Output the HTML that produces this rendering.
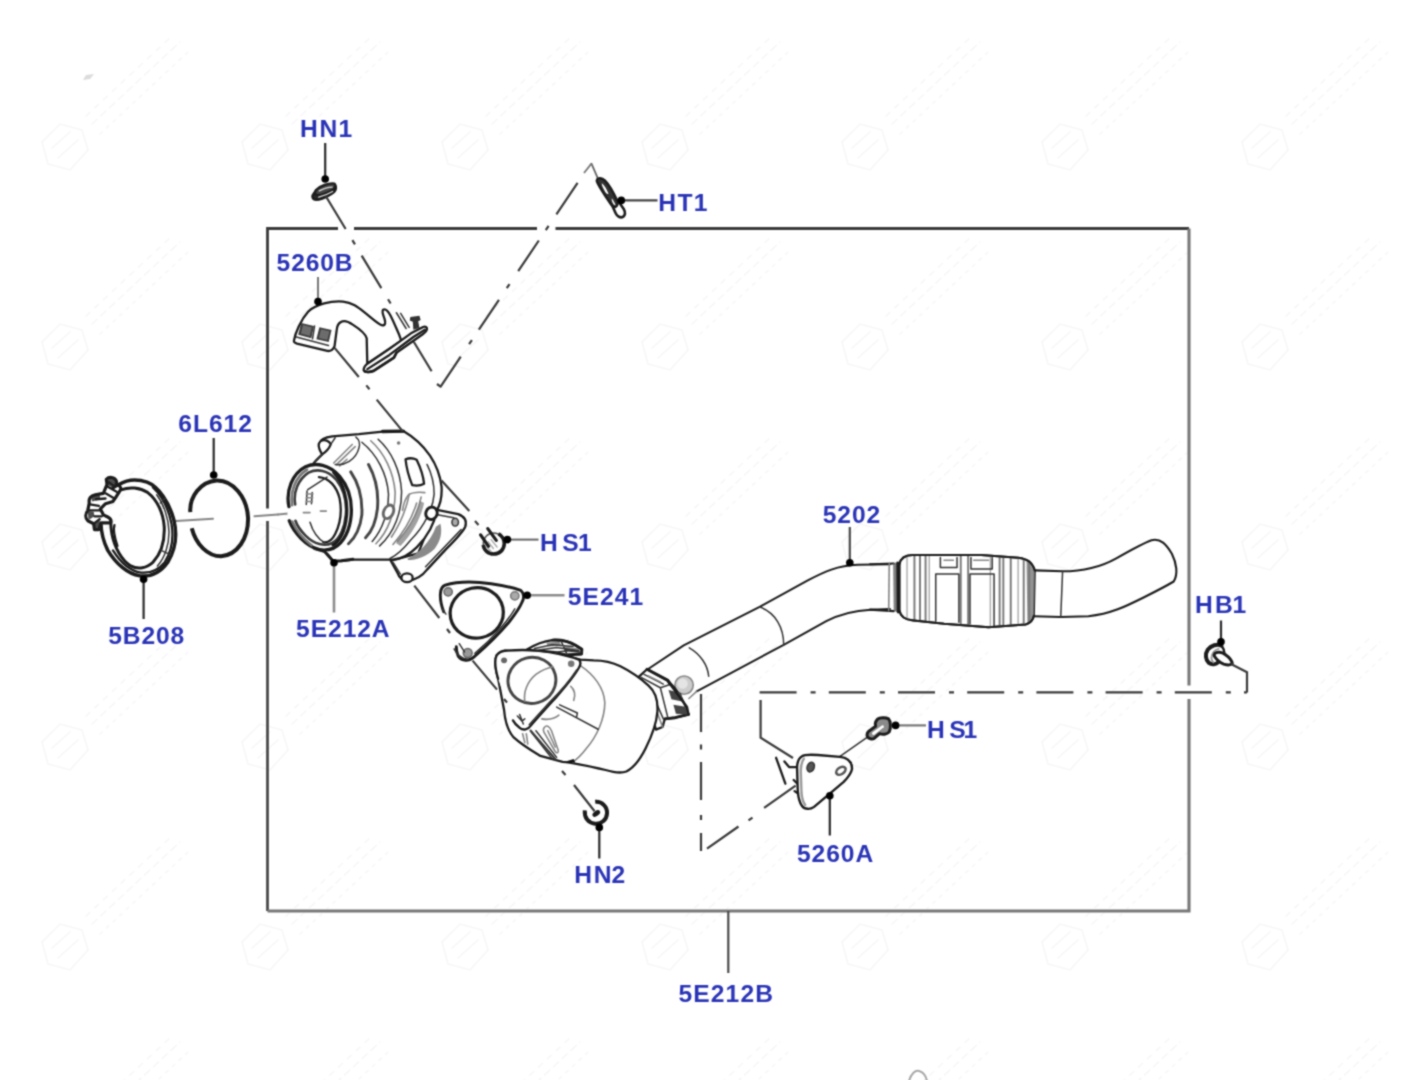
<!DOCTYPE html>
<html lang="en">
<head>
<meta charset="utf-8">
<title>Exhaust system diagram</title>
<style>
html,body{margin:0;padding:0;background:#fff;}
body{width:1404px;height:1080px;overflow:hidden;position:relative;font-family:"Liberation Sans",sans-serif;}
svg{position:absolute;left:0;top:0;display:block;}

.lbl{font-family:"Liberation Sans",sans-serif;font-weight:bold;font-size:24.6px;fill:#2a34b6;}
.ld{stroke:#2a2a2a;stroke-width:2.2;fill:none;stroke-linecap:butt;}
.dd{stroke:#3a3a3a;stroke-width:2.2;fill:none;}
.dot{fill:#000;}
.frame{stroke:#505050;stroke-width:2.8;fill:none;}
#parts path,#parts ellipse,#parts circle,#parts line,#parts rect,#parts polyline{vector-effect:non-scaling-stroke;stroke-linejoin:round;stroke-linecap:round;}
.o{stroke:#1c1c1c;stroke-width:2.3;fill:none;}
.k{stroke:#1c1c1c;stroke-width:2.9;fill:none;}
.t{stroke:#333;stroke-width:1.5;fill:none;}
.g{stroke:#858585;stroke-width:1.6;fill:none;}
.gl{stroke:#aaa;stroke-width:1.4;fill:none;}
.w{fill:#fff;}
.ow{stroke:#1c1c1c;stroke-width:2.3;fill:#fff;}
.tw{stroke:#333;stroke-width:1.5;fill:#fff;}
.f{fill:#555;stroke:none;}
.fl{fill:#999;stroke:none;}
</style>
</head>
<body>
<svg id="art" width="1404" height="1080" viewBox="0 0 1404 1080">
<defs><filter id="soft" x="0" y="0" width="1404" height="1080" filterUnits="userSpaceOnUse" color-interpolation-filters="sRGB"><feConvolveMatrix order="3" kernelMatrix="1 2 1 2 7 2 1 2 1" divisor="19" edgeMode="duplicate" preserveAlpha="true"/></filter></defs>
<rect width="1404" height="1080" fill="#fff"/>
<g filter="url(#soft)">
<rect width="1404" height="1080" fill="#fff"/>

<!-- faint background watermark texture -->
<defs>
<pattern id="wm" width="200" height="200" patternUnits="userSpaceOnUse" x="30" y="20">
<g fill="none" stroke="#f6f6f6" stroke-width="1.5" stroke-linecap="round">
<path d="M12 122L30 104L52 110L58 130L40 150L18 144Z M22 128L40 112 M28 138L48 120"/>
<path d="M62 104L150 22" stroke-dasharray="7 5"/>
<path d="M70 114L158 32" stroke-dasharray="3 6"/>
<path d="M56 96L142 16" stroke-dasharray="5 7"/>
</g>
</pattern>
</defs>
<rect width="1404" height="1080" fill="url(#wm)"/>
<path d="M83 80L86 75L94 74L90 79Z" fill="#dcdcdc"/>
<path d="M909 1081C911 1074 915 1070 919 1071C923 1072 926 1076 927 1081" fill="none" stroke="#a8a8a8" stroke-width="2"/>

<!-- FRAME -->
<g id="frame">
<path class="frame" style="stroke:#3a3a3a" d="M267.5 508.5V228.5H338 M354 228.5H537 M555.5 228.5H1189"/>
<path class="frame" style="stroke:#4a4a4a" d="M267.5 521V911"/>
<path class="frame" style="stroke:#777;stroke-width:3.1" d="M1189 228.5V685.5 M1189 699V911H267.5"/>
</g>

<!-- PARTS -->
<g id="parts">
<!-- ring 6L612 + clamp 5B208 : coords from zoom [70,460,278,620] scale 6.75 -->
<g transform="translate(70,460) scale(0.148148)">
<!-- axis lines -->
<path class="g" style="stroke-width:2" d="M715 412L965 396 M1245 380L1404 368"/>
<path class="g" style="stroke-width:2" d="M1404 368L1490 360"/>
<!-- ring -->
<path class="k" style="stroke-width:4;stroke-linecap:butt" d="M812 352C805 250 880 145 990 138C1100 135 1195 250 1202 390C1205 530 1130 640 1020 650C930 650 850 570 822 460"/>
<!-- clamp band outer -->
<path class="k" style="stroke-width:3.5" d="M330 165C380 135 450 125 520 150C600 180 670 290 700 400C725 500 715 600 660 690C610 760 540 790 470 782C390 770 310 700 255 610C225 550 210 480 208 420"/>
<!-- mid lines right/bottom -->
<path class="o" d="M560 185C620 240 665 330 685 430C700 520 690 610 640 690C595 745 540 765 480 760C410 750 340 690 290 610"/>
<path class="t" d="M585 235C635 300 665 400 668 480C670 570 640 660 590 715"/>
<!-- clamp band inner -->
<path class="k" style="stroke-width:3" d="M350 200C400 180 470 185 525 220C590 270 630 360 636 450C640 540 615 630 560 690C520 730 460 740 410 715C350 680 300 590 283 500C278 470 275 440 275 420"/>
<path class="t" d="M615 610L680 640 M640 260L610 290"/>
<path class="o" d="M300 440C290 470 300 520 320 580"/>
<!-- hardware -->
<path class="k" style="stroke-width:3.2;fill:#fff" d="M245 130C265 110 300 115 312 140C318 160 305 180 290 188L330 165L345 195L310 250L290 280L240 295L205 330L225 370L255 385C275 395 280 410 275 425L208 425L195 470L165 470L160 430L120 410C100 390 105 360 120 340L130 290C125 260 140 240 170 235L225 225L250 165Z"/>
<path class="o" d="M262 150L290 170 M255 180L315 215 M240 225L300 260 M175 265L240 260 M135 300L195 310 M130 340L200 340 M165 380L215 380 M160 430L200 400"/>
<path class="f" style="fill:#222" d="M250 130L305 125L312 160L290 188L258 172Z M120 345L160 350L165 380L125 405Z M165 420L200 410L205 465L168 468Z M140 245L200 235L205 265L150 280Z" opacity="0.8"/>
</g>
<!-- pipe: coords from zoom [630,480,890,680] -->
<g transform="translate(630,480) scale(0.185185)">
<path class="o" style="stroke-width:2" d="M90 1026L290 893L700 685L960 542C1050 495 1120 462 1230 458L1404 455"/>
<path class="o" style="stroke-width:2" d="M360 1141L830 890L1060 762C1130 725 1200 705 1300 700L1404 697"/>
<path class="g" d="M360 1141L318 1180"/>
<path class="t" d="M700 685C790 720 830 800 830 890"/>
<path class="t" d="M320 906C380 940 420 1000 425 1060"/>
</g>
<!-- flex + tail: coords from zoom [870,500,1130,700] -->
<g transform="translate(870,500) scale(0.185185)">
<path class="o" style="stroke-width:2.1" d="M0 347L128 343 M0 592L128 600"/>
<path class="g" d="M104 345L101 598"/>
<path class="f" d="M125 340L160 335L165 610L128 600Z" opacity="0.75"/>
<path class="k" d="M150 340L152 605"/>
<path class="ow" style="stroke-width:2" d="M160 345C165 315 190 298 230 297L600 297L800 312C850 318 875 335 890 380L885 625C880 650 865 665 840 672L640 687L400 668L230 650C185 645 165 630 160 600Z"/>
<path class="fl" d="M845 325L890 380L885 625L850 668Z" style="fill:#808080" opacity="0.85"/>
<path class="g" style="stroke:#777;stroke-width:1.9" d="M240 300V648 M270 300V652 M300 300V656 M490 300V675 M530 300V678 M700 305V682 M720 308V680 M760 310V678 M830 318V672 M860 330V660"/>
<path class="gl" d="M200 310V640 M320 300V658 M650 300V685 M800 312V674"/>
<path class="t" d="M355 655V400H480V660 M540 668V400H670V680"/>
<path class="t" d="M380 310V365H470V310 M545 310V372H660V312"/>
<path class="g" d="M400 325H450 M560 325H640"/>
<path class="o" style="stroke-width:2.1" d="M160 345C165 315 190 298 230 297L600 297L800 312C850 318 875 335 890 380 M885 625C880 650 865 665 840 672L640 687L400 668L230 650C185 645 165 630 160 600"/>
<!-- right pipe + tail -->
<path class="o" style="stroke-width:2.1" d="M890 380L1040 385C1150 385 1250 360 1330 315C1400 275 1470 235 1520 217C1570 205 1600 240 1630 290C1655 340 1665 400 1640 440C1590 470 1540 495 1480 525C1380 575 1300 615 1180 628L1030 632L885 628"/>
<path class="t" d="M1040 385L1030 632"/>
</g>
<!-- bracket 5260A + HS1 bolt: coords from zoom [740,680,1000,880] -->
<g transform="translate(740,680) scale(0.185185)">
<path class="t" d="M540 412L700 300"/>
<path class="o" d="M195 420L245 560 M240 440L265 470L300 470 M290 540L310 560 M295 600L310 610"/>
<path class="o" style="fill:#fff;stroke-width:2.4" d="M335 412C350 400 380 402 420 405L540 415C580 420 605 440 605 480C600 510 580 530 560 550L400 685C380 700 350 700 335 680C320 660 315 640 312 600L308 470C310 440 320 420 335 412Z"/>
<path class="g" style="stroke-width:2.4;stroke:#999" d="M345 425C335 440 328 460 328 490L332 610C335 640 340 660 352 675"/>
<ellipse class="t" cx="382" cy="470" rx="19" ry="27" transform="rotate(20 382 470)" style="fill:#555"/>
<ellipse class="o" cx="545" cy="490" rx="28" ry="18" transform="rotate(-35 545 490)" style="stroke:#555;stroke-width:2.6"/>
</g>
<!-- HB1 bolt: zoom [1180,620,1284,700] scale 13.5 -->
<g transform="translate(1180,620) scale(0.074074)">
<path class="k" style="fill:#fff;stroke-width:4" d="M560 345C500 320 420 340 375 400C335 460 345 540 390 580C430 610 490 600 515 570"/>
<path class="g" style="stroke:#999;stroke-width:2" d="M520 390C470 400 430 450 425 510C425 540 435 560 450 570"/>
<path class="k" style="fill:#fff;stroke-width:3" d="M470 450C500 425 560 430 610 465C660 500 700 550 705 585C690 605 640 610 590 595C540 575 490 530 465 490C460 475 462 460 470 450Z"/>
<path class="k" style="stroke-width:2.4" d="M560 345C585 380 600 420 600 450"/>
</g>
<!-- HN2 nut: zoom [550,780,654,860] scale 13.5 -->
<g transform="translate(550,780) scale(0.074074)">
<path class="k" style="stroke-width:4;stroke-linecap:butt" d="M610 295C700 285 775 360 770 450C765 540 690 600 605 590C520 580 460 510 470 410"/>
<ellipse cx="625" cy="452" rx="58" ry="34" transform="rotate(-35 625 452)" style="fill:#1a1a1a"/>
</g>
<!-- HN1 nut: zoom [240,90,500,290] -->
<g transform="translate(240,90) scale(0.185185)">
<path class="k" style="fill:#2a2a2a;stroke-width:2.6" d="M398 560C415 535 470 510 505 512C525 520 520 545 495 560C465 580 420 598 400 590C388 582 390 570 398 560Z"/>
<path class="k" style="fill:#444;stroke-width:2.2" d="M410 540C430 518 480 500 510 505C522 515 512 535 490 545C462 560 425 572 410 565C402 558 404 548 410 540Z"/>
<path class="o" style="stroke:#ddd;stroke-width:1.3" d="M428 545C450 532 478 524 498 524 M425 578C450 572 480 560 500 548"/>
</g>
<!-- HT1 pin: zoom [570,150,674,230] scale 13.5 -->
<g transform="translate(570,150) scale(0.074074)">
<path class="t" style="stroke:#666;stroke-width:1.8" d="M290 185L370 370"/>
<path class="k" style="fill:#fff;stroke-width:2.6" d="M530 660L615 850C635 895 680 925 720 900C750 875 745 835 725 795L645 680Z"/>
<path class="k" style="fill:#333;stroke-width:2.4" d="M365 400C380 370 430 375 470 410C530 470 590 580 640 690C650 720 640 760 610 770C580 780 555 740 530 700C470 610 400 500 370 440C360 425 358 410 365 400Z"/>
<path class="w" d="M430 450C460 470 500 540 520 590C505 600 490 590 475 565C450 520 425 480 430 450Z"/>
<path class="w" d="M565 650C585 680 610 720 615 745C600 750 590 735 578 715C568 695 560 670 565 650Z"/>
</g>
<!-- HS1 upper bolt: zoom [460,510,564,590] scale 13.5 -->
<g transform="translate(460,510) scale(0.074074)">
<circle cx="455" cy="450" r="140" style="fill:#fff;stroke:#555;stroke-width:1.6"/>
<path class="k" style="stroke-width:3.6;stroke-linecap:butt" d="M315 470C320 540 380 595 455 595C535 595 595 535 598 455C598 400 570 350 520 320"/>
<path class="g" style="stroke:#aaa;stroke-width:1.4" d="M380 430L450 520 M420 400L500 500 M360 500L420 560"/>
<path class="k" style="stroke-width:3.2" d="M375 252L490 410 M278 335L385 490"/>
</g>
<!-- HS1 lower bolt: zoom [850,700,954,780] scale 13.5 -->
<g transform="translate(850,700) scale(0.074074)">
<path class="k" style="fill:#8a8a8a;stroke-width:3" d="M370 260C400 235 480 230 520 255C550 285 555 380 530 430C500 465 440 470 400 455L330 515C300 535 250 525 235 495C225 465 240 430 270 410L345 355C335 320 345 285 370 260Z"/>
<path d="M300 440L430 345C445 335 465 350 455 368L330 470C310 480 290 460 300 440Z" style="fill:#fff"/>
</g>
<!-- bracket 5260B: coords from zoom [280,280,450,411] scale 8.247 -->
<g transform="translate(280,280) scale(0.121256)">
<!-- stud lines -->
<path class="t" d="M960 270L1040 400 M995 275L1065 390"/>
<!-- body -->
<path class="o" style="fill:#fff" d="M115 500C125 440 170 330 235 258C300 200 420 170 520 178C600 185 650 230 720 285C770 325 810 365 845 375C870 375 872 350 862 320C850 290 838 262 850 245C870 235 895 262 912 295C935 340 960 400 980 445L1000 500L720 690L715 480C705 445 650 400 600 368C560 340 530 330 505 345C480 355 470 385 468 410L450 545C440 570 420 588 390 585L140 525C120 518 112 510 115 500Z"/>
<!-- dark squares -->
<path class="f" style="fill:#3c3c3c" d="M175 355L280 380L258 480L150 452Z"/>
<path class="f" style="fill:#3c3c3c" d="M325 390L425 412L402 512L300 488Z"/>
<path class="fl" d="M190 372L262 390L246 462L172 442Z" style="fill:#6c6c6c"/>
<path class="fl" d="M338 406L408 422L390 495L320 478Z" style="fill:#6c6c6c"/>
<path class="t" d="M285 380L268 485 M135 470L400 540"/>
<!-- flange -->
<path class="o" style="fill:#fff" d="M690 745C690 725 705 700 730 685L900 570L1080 440L1180 388C1200 380 1215 390 1212 408C1208 425 1195 435 1180 445L960 600L940 640L770 750C740 762 700 765 690 745Z"/>
<path class="o" d="M720 735L900 620L1100 470L1195 410"/>
<path class="k" style="stroke-width:2.6" d="M700 755C730 762 760 755 775 748L940 640L960 602"/>
<path class="f" d="M1075 305L1150 295L1160 330L1140 340L1150 395L1100 410L1095 345L1070 335Z" style="fill:#333"/>
</g>
<!-- upper cat 5E212A: coords from zoom [270,420,478,580] scale 6.75 -->
<g transform="translate(270,420) scale(0.148148)">
<!-- flange behind -->
<path class="o" style="fill:#fff" d="M1120 605L1270 635C1310 650 1330 680 1318 720C1300 760 1240 820 1190 870L1060 1010C1030 1050 980 1080 930 1085C890 1085 870 1060 860 1030L815 950L1000 900Z"/>
<path class="t" d="M1130 640L1240 660 M1290 740L1050 990 M880 1040L830 960"/>
<ellipse class="t" cx="1250" cy="690" rx="22" ry="26" style="fill:#aaa"/>
<ellipse class="o" cx="925" cy="1065" rx="38" ry="30" style="fill:#fff"/>
<!-- dark crescent -->
<path class="fl" style="fill:#8a8a8a" d="M930 935C1000 900 1080 830 1120 720L1150 700C1165 760 1150 820 1110 870C1060 920 990 945 930 945Z"/>
<!-- body silhouette -->
<path class="o" style="fill:#fff" d="M290 300C300 280 330 255 352 232C335 205 325 180 330 160C340 130 380 115 420 110L600 95L760 78L900 75C960 110 1030 170 1080 240C1120 300 1150 380 1158 450C1162 520 1150 570 1125 610C1110 700 1060 790 990 860C940 910 880 940 830 942L700 942L560 942L480 952L425 952C400 920 385 895 370 890L300 870Z"/>
<path class="k" style="stroke-width:3.4" d="M760 78L900 75"/>
<!-- ear -->
<path class="o" d="M352 232C380 215 400 190 410 165C400 140 370 130 345 140"/>
<path class="t" d="M352 232L300 285 M410 165L440 120"/>
<path class="g" d="M430 290L555 165 M450 300L575 180 M470 310L520 265"/>
<path class="t" d="M440 300C500 310 580 270 600 190C610 160 600 130 580 115"/>
<!-- ribs -->
<path class="k" style="stroke:#444" d="M545 350C600 430 625 530 620 640C610 720 580 790 530 835"/>
<path class="k" style="stroke:#444" d="M665 300C715 390 735 490 725 600C715 690 690 750 645 795"/>
<path class="t" d="M620 150C720 230 790 360 800 500C800 620 760 740 690 820"/>
<path class="t" d="M730 130C820 210 880 340 888 480C890 620 840 760 740 850"/>
<path class="g" d="M680 140C770 220 835 350 845 490C845 620 800 750 715 835"/>
<path class="t" d="M1060 300C1090 360 1108 430 1108 500C1100 600 1040 720 950 810C910 860 860 910 810 935"/>
<path class="g" d="M1020 520C1000 620 940 730 860 820 M990 560C960 660 900 760 830 840 M940 500C920 600 880 700 820 790"/>
<path class="f" style="fill:#777" d="M1010 545L1040 560C1020 660 960 770 880 850L850 830C930 750 990 650 1010 545Z" opacity="0.7"/>
<!-- window -->
<path class="o" d="M915 265C940 255 970 258 990 268C1015 320 1035 380 1040 430C1020 442 985 445 960 440C940 390 920 320 915 265Z"/>
<path class="g" d="M1045 490C1000 485 960 490 935 505C915 530 900 570 895 610"/>
<circle cx="868" cy="155" r="12" class="f" style="fill:#777"/>
<!-- bosses -->
<ellipse class="k" style="stroke:#666;fill:#fff" cx="800" cy="620" rx="32" ry="48" transform="rotate(25 800 620)"/>
<ellipse class="k" style="fill:#fff" cx="1090" cy="630" rx="38" ry="42" transform="rotate(20 1090 630)"/>
<!-- front ring -->
<ellipse class="w" cx="330" cy="590" rx="215" ry="285"/>
<path class="k" style="stroke-width:3.3" d="M128 585C105 480 150 360 240 315C310 285 400 300 470 380C530 450 555 540 548 640C540 740 500 830 430 865C370 890 290 880 210 800C170 760 145 720 130 680"/>
<path class="o" style="stroke:#3a3a3a;stroke-width:2.6" d="M170 570C155 490 190 400 260 355C320 325 390 340 445 400C500 470 520 550 512 640C505 720 475 800 420 830C370 855 300 840 240 780C210 750 185 720 172 680"/>
<path class="g" style="stroke-width:2.6;stroke:#777" d="M150 575C135 485 170 385 250 335 M150 685C175 740 220 800 280 845"/>
<path class="k" style="stroke-width:3" d="M430 355C500 430 525 540 518 640C510 730 480 810 425 845"/>
<path class="o" d="M330 385C400 390 450 450 470 530C485 610 475 700 440 770C420 810 390 830 360 825"/>
<path class="t" d="M270 690C285 740 320 800 370 830 M255 470L385 385 M250 480L245 570 M285 490L280 565"/>
<path class="g" d="M245 500H290 M245 525H288 M245 550H286 M225 625H270 M340 615H380"/>
<path class="k" d="M370 890L425 952L480 950L560 940"/>
</g>
<!-- gasket 5E241: coords from zoom [420,560,628,720] scale 6.75 -->
<g transform="translate(420,560) scale(0.148148)">
<path class="w" d="M150 180C220 150 350 140 480 160L680 205C705 225 700 260 690 280C650 360 560 470 380 640C340 690 280 690 255 650L140 250C135 220 140 195 150 180Z"/>
<path class="k" d="M160 350C145 310 135 260 138 225C140 195 150 178 170 170C240 148 350 142 480 160C560 172 630 188 680 205C705 225 702 260 690 282C670 330 640 370 600 420C540 490 460 570 380 640C340 685 285 690 258 650C250 630 245 610 245 585"/>
<path class="t" d="M640 330C600 400 500 520 370 630 M175 365L150 330"/>
<ellipse class="k" style="stroke-width:3.2" cx="383" cy="357" rx="180" ry="170" transform="rotate(-12 383 357)"/>
<circle cx="190" cy="215" r="28" style="fill:#999;stroke:#666;stroke-width:1.5"/>
<circle cx="640" cy="242" r="28" style="fill:#aaa;stroke:#777;stroke-width:1.5"/>
<circle cx="322" cy="628" r="30" style="fill:#999;stroke:#666;stroke-width:1.5"/>
<path class="t" d="M265 565L300 620 M230 600C250 640 280 665 320 670"/>
</g>
<!-- lower cat: coords from zoom [490,630,698,790] scale 6.75 -->
<g transform="translate(490,630) scale(0.148148)">
<!-- gray ball -->
<circle cx="1310" cy="372" r="62" style="fill:#ccc;stroke:#888;stroke-width:1.6"/>
<circle cx="1300" cy="362" r="35" style="fill:#e4e4e4;stroke:none"/>
<!-- neck + clamp -->
<path class="o" style="fill:#fff" d="M1000 320L1060 265L1200 340C1260 400 1310 470 1340 570L1250 592L1180 600L1165 655L1120 672L1100 600Z"/>
<path class="k" d="M1060 265L1200 340L1215 365 M1340 570L1250 592L1180 600"/>
<path class="t" d="M1040 300L1170 365 M1020 320L1150 390L1200 590 M1150 390L1210 370 M1100 440L1170 600"/>
<path class="g" d="M1070 310L1150 350 M1130 560L1165 655"/>
<path class="f" style="fill:#444" d="M1205 405L1290 425L1305 485L1225 468Z"/>
<path class="f" style="fill:#444" d="M1238 505L1320 518L1338 572L1255 565Z"/>
<path class="o" d="M1200 345L1330 520L1340 570"/>
<!-- body -->
<path class="o" style="fill:#fff" d="M45 170C30 200 35 260 55 330L95 540C100 600 120 680 160 725C220 780 290 820 340 850L490 890C560 895 650 915 780 945C830 960 880 970 920 955C960 935 1010 880 1050 800C1090 720 1125 620 1130 550C1135 470 1110 410 1070 375C1020 330 950 280 880 245C820 215 740 205 700 205L610 200L400 150L100 140Z"/>
<!-- cone seam -->
<path class="g" d="M610 240C700 300 770 390 775 490C775 600 720 720 650 800C620 840 590 870 560 890"/>
<path class="t" d="M450 520L730 670 M470 505L590 560L585 585"/>
<path class="g" d="M545 380C570 400 580 440 565 475 M350 600C400 610 440 595 465 575"/>
<path class="g" d="M365 660C380 640 400 645 415 680L460 810C465 830 450 835 440 820L370 700C360 685 358 670 365 660Z M390 680L440 790"/>
<path class="t" d="M280 690L420 870 M310 680L450 860"/>
<path class="g" d="M220 700L235 760 M245 700L255 770"/>
<path class="f" style="fill:#111" d="M505 890L565 870L575 895Z"/>
<!-- flange -->
<path class="o" style="fill:#fff" d="M55 330C35 260 30 200 45 170C60 150 80 142 100 140C200 132 320 135 400 150C480 165 560 185 600 200C615 215 612 235 600 255C570 310 520 370 450 450C400 505 340 570 280 640C255 675 225 680 200 660C180 645 165 630 155 610"/>
<path class="t" d="M585 270C540 340 470 420 400 490C350 545 300 600 265 640"/>
<ellipse class="k" style="stroke:#444" cx="283" cy="340" rx="162" ry="155" transform="rotate(-15 283 340)"/>
<path class="g" d="M235 480C225 420 250 350 310 300C350 270 390 255 425 248"/>
<circle cx="95" cy="205" r="20" style="fill:#666"/>
<circle cx="548" cy="228" r="22" style="fill:#777"/>
<path class="t" d="M185 580L215 615L235 600 M200 570L225 635"/>
<!-- heat shield on top -->
<path class="o" style="fill:#fff" d="M250 132C300 100 360 75 420 68C480 65 540 80 580 105L620 130L618 162L520 168L440 150Z"/>
<path class="k" d="M420 68C480 65 540 80 580 105L620 130L618 162L520 168"/>
<path class="t" d="M300 125L420 100L560 112 M330 135L450 118L600 140 M480 75L520 165 M440 150L520 140L615 150"/>
<path class="f" style="fill:#333" d="M380 85L470 80L480 105L390 112Z M500 110L600 125L605 150L510 140Z" opacity="0.55"/>
</g>
</g>

<!-- DASHDOT -->
<g id="dashdot">
<path class="dd" d="M759.6 692.4H1247" stroke-dasharray="37 14 5 13.2"/>
<path class="dd" d="M1247 692.4V672.2L1231 664"/>
<path class="dd" d="M760.6 700V737.6L793 758"/>
<path class="dd" d="M701 694V732 M701 744.5V749.5 M701 762V800 M701 815V820 M701 833V851"/>
<path class="dd" d="M707 848.7L738.5 826.5 M748.5 820.4L752.5 817.6 M764.1 807.8L795.6 785.6"/>
<path class="dd" d="M326 196.5L431.6 371.3" stroke-dasharray="38 13 5 13 38 13 5 44.7 40"/>
<path class="dd" style="stroke:#777;stroke-width:1.8" d="M591.4 163.6L584 173"/>
<path class="dd" d="M590.7 163.3L440.1 387.4" stroke-dasharray="0 23.5 38 14 5 12.5 37 15.5 5 14 36 12.5 5 15 40"/>
<path class="dd" d="M440.6 386.7L437 384"/>

<path class="dd" d="M334.6 347.9L358.8 377 M366.3 385.4L369.5 389.2 M376.7 399.6L402.6 431.1"/>
<path class="dd" d="M441.5 480.4L469.3 511 M475 521L478.5 525"/>
<path class="dd" d="M414.3 585.6L439.3 618 M447 629L450 633 M472.6 660.6L497 689.6 M504 699L507 702.5 M530 730L556 760 M562 771L565.5 775 M574 785L594.6 811.3"/>
</g>

<!-- LEADERS -->
<g id="leaders">
<path class="ld" d="M325.2 143V179 M213.7 438V475 M143.6 580V619 M1221 620.5V642 M599.3 828V858.5 M829.8 796V835.5"/>
<path class="ld" style="stroke:#777;stroke-width:2" d="M318 277V301"/>
<path class="ld" style="stroke:#4a4a4a" d="M849.8 527V563 M728.3 911V973"/>
<path class="ld" style="stroke:#8c8c8c;stroke-width:2.6" d="M334 563V612.5 M527.5 595.2H564.5"/>
<path class="ld" style="stroke:#444" d="M621.5 200.4H657.5"/>
<path class="ld" style="stroke:#666;stroke-width:2" d="M507.4 539.6H538.5"/>
<path class="ld" style="stroke:#777" d="M895.6 725.4H926"/>
<circle class="dot" cx="325.2" cy="179" r="3.8"/>
<circle class="dot" cx="621.3" cy="200.4" r="3.8"/>
<circle class="dot" cx="318" cy="301.5" r="3.8"/>
<circle class="dot" cx="213.7" cy="475" r="3.8"/>
<circle class="dot" cx="143.6" cy="579.3" r="3.8"/>
<circle class="dot" cx="334" cy="562.8" r="3.8"/>
<circle class="dot" cx="507.4" cy="539.6" r="3.8"/>
<circle class="dot" cx="527.2" cy="595.2" r="3.8"/>
<circle class="dot" cx="849.8" cy="562.8" r="3.8"/>
<circle class="dot" cx="1221" cy="641.7" r="3.8"/>
<circle class="dot" cx="599.3" cy="827.4" r="3.8"/>
<circle class="dot" cx="829.8" cy="795.7" r="3.8"/>
<circle class="dot" cx="895.6" cy="725.4" r="3.8"/>
</g>

<!-- LABELS -->
<g id="labels">
<text class="lbl" x="300.1 319.6 338.4" y="137">HN1</text>
<text class="lbl" x="658.3 677.6 693.8" y="211.3">HT1</text>
<text class="lbl" x="276.6" y="270.8" textLength="76" lengthAdjust="spacing">5260B</text>
<text class="lbl" x="178.3" y="432.2" textLength="73.6" lengthAdjust="spacing">6L612</text>
<text class="lbl" x="108.2" y="644.2" textLength="76" lengthAdjust="spacing">5B208</text>
<text class="lbl" x="540.1 562.3 578" y="550.7">HS1</text>
<text class="lbl" x="567.8" y="605.4" textLength="75.4" lengthAdjust="spacing">5E241</text>
<text class="lbl" x="296.1" y="637.2" textLength="93.5" lengthAdjust="spacing">5E212A</text>
<text class="lbl" x="822.8" y="522.8" textLength="57.4" lengthAdjust="spacing">5202</text>
<text class="lbl" x="1194.9 1214.9 1232.4" y="613.1">HB1</text>
<text class="lbl" x="927 949.2 963.4" y="737.6">HS1</text>
<text class="lbl" x="797" y="862.2" textLength="76.2" lengthAdjust="spacing">5260A</text>
<text class="lbl" x="574.2 593.8 611.6" y="882.8">HN2</text>
<text class="lbl" x="678.4" y="1001.8" textLength="94.6" lengthAdjust="spacing">5E212B</text>
</g>
</g>
</svg>
</body>
</html>
